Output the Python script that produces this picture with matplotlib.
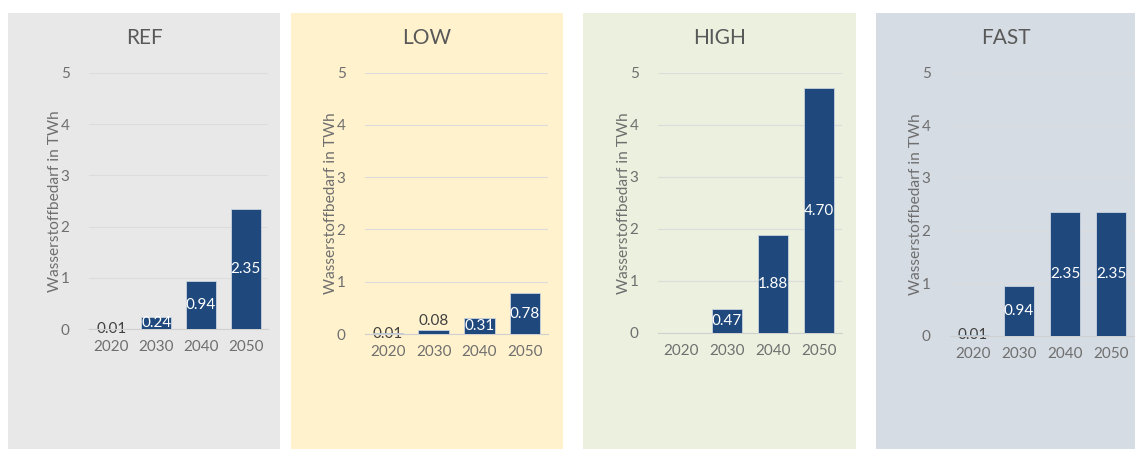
import matplotlib.pyplot as plt
from matplotlib.patches import Rectangle

plt.rcParams['font.family'] = ['Lato', 'DejaVu Sans']

years = ['2020', '2030', '2040', '2050']
ref = [0.01, 0.24, 0.94, 2.35]
low = [0.01, 0.08, 0.31, 0.78]
high = [0.0, 0.47, 1.88, 4.70]
fast = [0.01, 0.94, 2.35, 2.35]

scenarios = ['REF', 'LOW', 'HIGH', 'FAST']
series = [ref, low, high, fast]
bg_colors = ['#e8e8e8', '#fff2cc', '#ebf1de', '#d6dce4']

W, H = 1135, 449
# panel background boxes and plot areas in pixels (left, top, right, bottom)
panels = [(8, 13, 280, 449), (291, 13, 563, 449), (583, 13, 856, 449), (876, 13, 1135, 449)]
plot_areas = [(89, 72.7, 268, 329.3), (365, 72.7, 548, 334), (658, 72.7, 842, 333), (950, 72.7, 1134, 335.7)]

bar_color = '#1f497d'
text_gray = '#6f6f6f'


def to_fig(box):
    l, t, r, b = box
    return [l / W, 1 - b / H, (r - l) / W, (b - t) / H]


fig = plt.figure(figsize=(W / 100, H / 100), dpi=100)

for name, vals, bg, pbox, abox in zip(scenarios, series, bg_colors, panels, plot_areas):
    px, py, pw, ph = to_fig(pbox)
    fig.patches.append(Rectangle((px, py), pw, ph, transform=fig.transFigure,
                                 facecolor=bg, edgecolor='none', zorder=-1))
    cx = (pbox[0] + pbox[2]) / 2 / W
    fig.text(cx, 1 - 38 / H, name, ha='center', va='center', fontsize=15, color='#595959')

    ax = fig.add_axes(to_fig(abox))
    ax.set_zorder(1)
    ax.patch.set_alpha(0)
    x = range(len(years))
    ax.bar(x, vals, width=0.67, color=bar_color, edgecolor='#c9d3df', linewidth=0.6, zorder=3)
    ax.set_xlim(-0.5, 3.5)
    ax.set_ylim(0, 5)
    ax.set_yticks(range(6))
    ax.set_xticks(list(x))
    ax.set_xticklabels(years)
    ax.grid(axis='y', color='#dcdcdc', linewidth=0.8, zorder=0)
    for s in ['top', 'right', 'left']:
        ax.spines[s].set_visible(False)
    ax.spines['bottom'].set_color('#d0d0d0')
    ax.spines['bottom'].set_linewidth(0.8)
    ax.tick_params(length=0, labelsize=11, colors=text_gray)
    ax.tick_params(axis='y', pad=14)
    ax.tick_params(axis='x', pad=8)
    ax.set_ylabel('Wasserstoffbedarf in TWh', fontsize=11.2, color=text_gray, labelpad=-1)

    for i, v in enumerate(vals):
        if v <= 0:
            continue
        if v >= 0.2:
            ax.text(i, v / 2, f'{v:.2f}', ha='center', va='center', fontsize=11,
                    color='white', zorder=4)
        elif v >= 0.05:
            ax.text(i, v + 0.03, f'{v:.2f}', ha='center', va='bottom', fontsize=11,
                    color='#404040', zorder=4)
        else:
            ax.text(i, v / 2, f'{v:.2f}', ha='center', va='center', fontsize=11,
                    color='#404040', zorder=2)

fig.savefig('out.png', dpi=100, facecolor='white')
